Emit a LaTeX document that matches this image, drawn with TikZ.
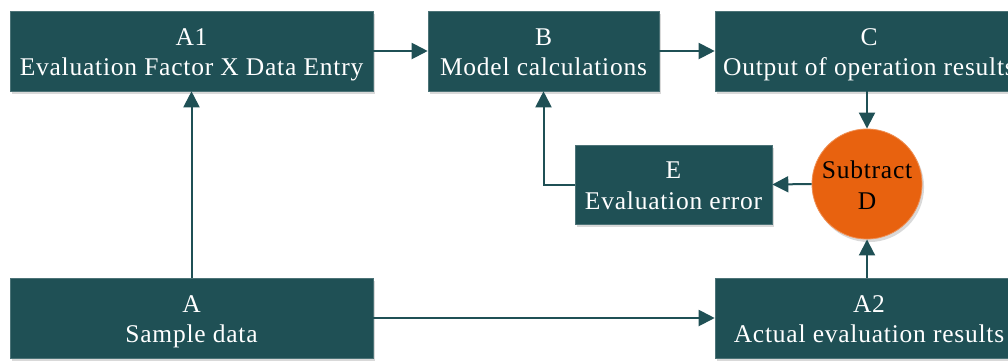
\documentclass[tikz,border=0pt]{standalone}
\usepackage{fontspec}
\setmainfont{Liberation Serif}[LetterSpace=3]
\usetikzlibrary{arrows.meta,shadows}
\definecolor{teal}{HTML}{1F5055}
\definecolor{dorange}{HTML}{E8620F}
\newcommand\twolines[2]{\raisebox{-3.5pt}[\height][\depth]{\begin{tabular}{@{}c@{}}#1\\#2\end{tabular}}}
\tikzset{
  box/.style={draw=teal!80!white, line width=0.6pt, fill=teal, text=white, align=center,
    inner sep=0pt, minimum height=80pt,
    font=\fontsize{25.5}{30.5}\selectfont,
    drop shadow={opacity=0.3, shadow xshift=2pt, shadow yshift=-3pt}},
  sub/.style={circle, draw=dorange!70!white, line width=0.8pt, fill=dorange, text=black, align=center,
    inner sep=0pt, minimum size=105pt, font=\fontsize{25.5}{31.5}\selectfont,
    drop shadow={opacity=0.3, shadow xshift=2pt, shadow yshift=-3pt}},
  conn/.style={draw=teal, line width=2pt, -{Triangle[length=16pt,width=16pt]}}
}
\begin{document}
\begin{tikzpicture}[x=1pt,y=-1pt]
\useasboundingbox (0,0) rectangle (1008,360);
\node[box, minimum width=363pt] (A1) at (191.5,51) {\twolines{A1}{Evaluation Factor X Data Entry}};
\node[box, minimum width=231pt] (B) at (543.5,51) {\twolines{B}{Model calculations}};
\node[box, minimum width=308pt] (C) at (869,51) {\twolines{C}{Output of operation results}};
\node[box, minimum width=197pt, minimum height=79pt] (E) at (673.5,184.5) {\twolines{E}{Evaluation error}};
\node[sub] (D) at (867,184) {\twolines{Subtract}{D}};
\node[box, minimum width=363pt] (A) at (191.5,318) {\twolines{A}{Sample data}};
\node[box, minimum width=308pt] (A2) at (869,318) {\twolines{A2}{Actual evaluation results}};
\draw[conn] (A1.east) -- (B.west);
\draw[conn] (B.east) -- (C.west);
\draw[conn] (D.north |- C.south) -- (D.north);
\draw[conn] (D.west) -- (E.east);
\draw[conn] (E.west) -| (B.south);
\draw[conn] (A.north) -- (A1.south);
\draw[conn] (A.east) -- (A2.west);
\draw[conn] (D.south |- A2.north) -- (D.south);
\end{tikzpicture}
\end{document}
